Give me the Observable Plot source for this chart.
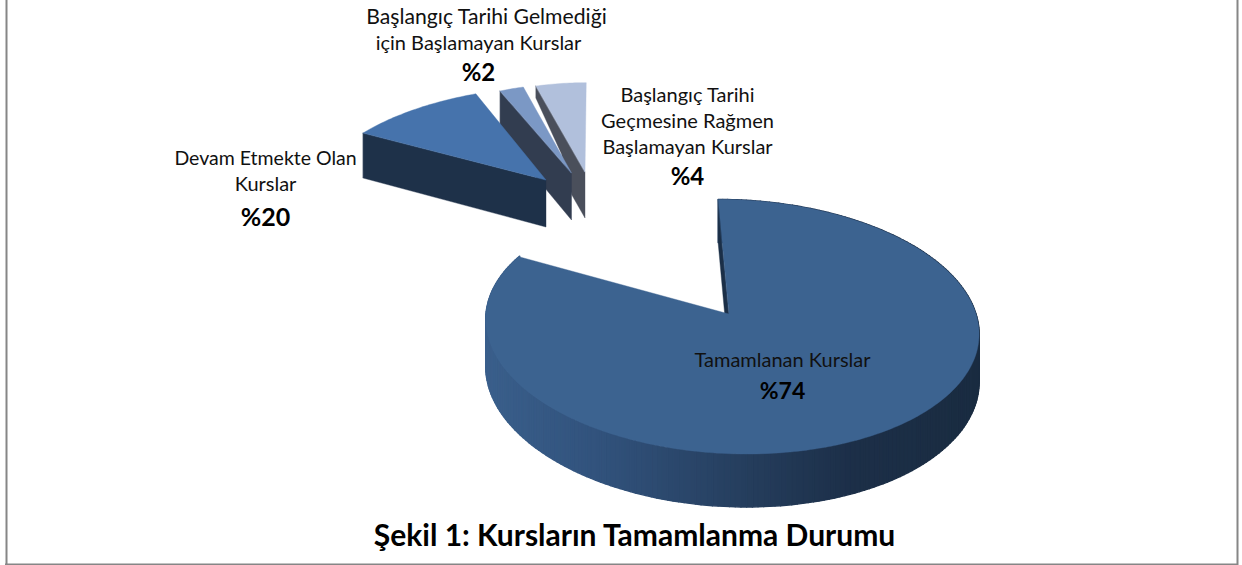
<!DOCTYPE html>
<html><head><meta charset="utf-8">
<script src="https://cdn.jsdelivr.net/npm/d3@7"></script>
<script src="https://cdn.jsdelivr.net/npm/@observablehq/plot@0.6"></script>
<style>html,body{margin:0;padding:0;background:#fff}svg{display:block}</style>
</head><body><div id="chart"></div>
<script>
// Data
const sliceNames = ["Tamamlanan Kurslar","Devam Etmekte Olan Kurslar","Başlangıç Tarihi Gelmediği için Başlamayan Kurslar","Başlangıç Tarihi Geçmesine Rağmen Başlamayan Kurslar"];
const printedLabels = ["%74","%20","%2","%4"];
// drawn sweep of each wedge, as measured in the picture (it differs from the printed labels)
const drawnShares = [82.9,10.3,2.2,4.6];
const titleText = "Şekil 1: Kursların Tamamlanma Durumu";

// Styling and layout
const topColors = ["#3c6390","#4673ac","#7b98c5","#b1c0dc"];
const wallColors = ["#1b2f47","#1e3149","#323d50","#4a4f5b"];
const apexX = [729,546,571.5,585], apexY = [314,180,173,172];
const scaleR = [1,0.82,0.78,0.78];
const stretchX = [0.988,1.125,1,1], extraShear = [-2.2,11.8,-3,-2.6], rimShift = [2,0,0,0];
const cutProfiles = [
  [[0,44],[1,47]],
  [[0,45],[1,47]],
  [[0,43],[1,47]],
  [[0,12],[0.52,23],[0.73,46],[1,46]]
];
const A = 248, B = 126, G = 0.1, VX = 621, SH = 0.11;

const starts = d3.cumsum([0,...drawnShares]);
const project = (i,theta) => {
  const u = Math.sin(theta), v = Math.cos(theta), s = scaleR[i], w = 1 + G*v;
  return {x: apexX[i] + rimShift[i] + (A*s*stretchX[i]*u + ((VX-apexX[i])*SH + extraShear[i])*v)/w, y: apexY[i] - B*s*v/w};
};
const ang = p => p*Math.PI/50;

// wedge tops
const tops = [];
drawnShares.forEach((_,i)=>{
  const n = Math.max(4,Math.round(drawnShares[i]*4));
  for(let k=0;k<=n;k++){
    const p = project(i,ang(starts[i]+drawnShares[i]*k/n));
    tops.push({i,x1:apexX[i],y1:apexY[i],x2:p.x,y2:p.y,fill:topColors[i]});
  }
});
// flat cut wall at the first edge of each wedge
const cuts = [];
drawnShares.forEach((_,i)=>{
  const p = project(i,ang(starts[i]));
  cutProfiles[i].forEach(([t,depth])=>{
    const x = p.x + (apexX[i]-p.x)*t, y = p.y + (apexY[i]-p.y)*t;
    cuts.push({i,x,y1:y,y2:y+depth,fill:wallColors[i]});
  });
});
// curved rim of the main wedge, shaded by horizontal position
const ramp = d3.scaleLinear().domain([485,600,737,850,979]).range(["#3a5f8b","#31527c","#263f5f","#1c2f48","#1a2c41"]).clamp(true);
const rim = [];
for(let k=0;k<drawnShares[0]*3;k++){
  const a = project(0,ang(k/3)), b = project(0,ang((k+1)/3));
  const depth = q => 47.7/(1+G*(apexY[0]-q.y)/B);
  const f = ramp((a.x+b.x)/2);
  rim.push({k,x:a.x,y1:a.y,y2:a.y+depth(a)-0.7,fill:f});
  rim.push({k,x:b.x,y1:b.y,y2:b.y+depth(b)-0.7,fill:f});
}
const areaOf = (rows,i) => Plot.area(rows.filter(d=>d.i===i),{x1:"x",x2:"x",y1:"y1",y2:"y2",fill:"fill",stroke:"fill",strokeWidth:0.4});
const topOf = i => Plot.area(tops.filter(d=>d.i===i),{x1:"x1",y1:"y1",x2:"x2",y2:"y2",fill:"fill",stroke:"fill",strokeWidth:0.4});

const font = "Lato, Carlito, Calibri, sans-serif";
const plainLines = [
  {t:"Başlangıç Tarihi Gelmediği",x:486,y:17,s:21.2},
  {t:"için Başlamayan Kurslar",x:478,y:43,s:20},
  {t:"Başlangıç Tarihi",x:687,y:95,s:20},
  {t:"Geçmesine Rağmen",x:687,y:121,s:20},
  {t:"Başlamayan Kurslar",x:687,y:147,s:20},
  {t:"Devam Etmekte Olan",x:265,y:158,s:19.5},
  {t:"Kurslar",x:265,y:184,s:20},
  {t:sliceNames[0],x:782,y:360,s:20}
];
const boldLines = [
  {t:printedLabels[2],x:478,y:73,s:24},
  {t:printedLabels[3],x:687,y:177,s:24},
  {t:printedLabels[1],x:265,y:217,s:25},
  {t:printedLabels[0],x:782,y:391,s:23}
];

const plot = Plot.plot({
  width:1242,height:565,margin:0,
  style:{background:"#fff"},
  x:{domain:[0,1242],range:[0,1242],axis:null},
  y:{domain:[0,565],range:[0,565],axis:null},
  color:{type:"identity"},
  marks:[
    Plot.ruleX([6,1237],{stroke:"#868686",strokeWidth:2}),
    Plot.ruleY([564],{x1:5,x2:1238,stroke:"#868686",strokeWidth:2}),
    // main wedge
    Plot.area(rim,{x1:"x",x2:"x",y1:"y1",y2:"y2",z:"k",fill:"fill",stroke:"fill",strokeWidth:1.4}),
    areaOf(cuts,0),
    topOf(0),
    // exploded wedges, back to front
    areaOf(cuts,3),topOf(3),
    areaOf(cuts,2),topOf(2),
    areaOf(cuts,1),topOf(1),
    ...plainLines.map(d=>Plot.text([d],{x:"x",y:"y",text:"t",fontFamily:font,fontSize:d.s,fill:"#111",textAnchor:"middle"})),
    ...boldLines.map(d=>Plot.text([d],{x:"x",y:"y",text:"t",fontFamily:font,fontSize:d.s,fontWeight:700,fill:"#000",textAnchor:"middle"})),
    Plot.text([titleText],{x:[634],y:[536],text:d=>d,fontFamily:font,fontSize:30,fontWeight:700,fill:"#000",textAnchor:"middle"})
  ]
});
document.getElementById("chart").append(plot);
</script></body></html>
